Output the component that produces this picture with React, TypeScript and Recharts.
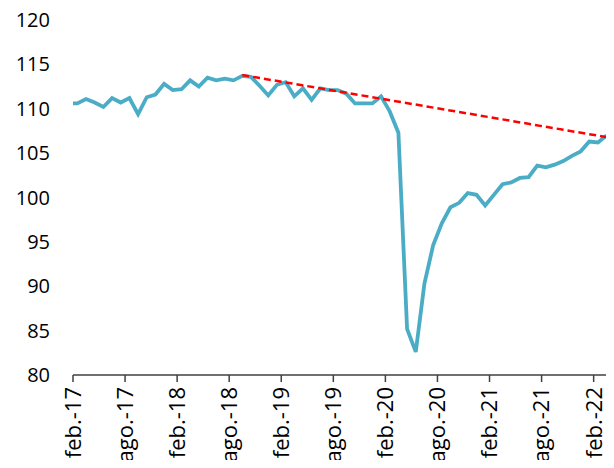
import { LineChart, Line, XAxis, YAxis } from "recharts"

// Índice mensual (feb.-17 = mes 0). Los datos caen a mitad de mes,
// salvo el primer valor, que está justo en el inicio del eje.
const mesInicio = 0
const valores = [
  110.6, 110.6, 111.1, 110.7, 110.2, 111.2, 110.7, 111.2, 109.4, 111.3, 111.6, 112.8, 112.1,
  112.2, 113.2, 112.5, 113.5, 113.2, 113.4, 113.2, 113.7, 113.6, 112.6, 111.5, 112.7,
  113.0, 111.4, 112.3, 111.0, 112.3, 112.1, 112.1, 111.7, 110.6, 110.6, 110.6, 111.4,
  109.7, 107.3, 85.2, 82.6, 90.3, 94.6, 97.1, 98.9, 99.4, 100.5, 100.3, 99.1,
  100.3, 101.5, 101.7, 102.2, 102.3, 103.6, 103.4, 103.7, 104.1, 104.7, 105.2, 106.3,
  106.2, 107.0,
]

// tendencia pre-pandemia (extremos de la recta punteada)
const tendenciaMeses = [19.5, 61.5]
const tendenciaValores = [113.8, 106.8]

const etiquetas = [
  "feb.-17", "ago.-17", "feb.-18", "ago.-18", "feb.-19", "ago.-19",
  "feb.-20", "ago.-20", "feb.-21", "ago.-21", "feb.-22",
]
const ticksX = etiquetas.map((_, i) => i * 6)
const ticksY = [80, 85, 90, 95, 100, 105, 110, 115, 120]

const serie = valores.map((v, i) => ({ t: i === 0 ? mesInicio : i - 0.5, v }))
const tendencia = tendenciaMeses.map((t, i) => ({ t, v: tendenciaValores[i] }))

const FONT = "'Open Sans', 'Noto Sans', sans-serif"

const TickX = ({ x, y, payload }: any) => (
  <text
    x={x}
    y={y}
    transform={`rotate(-90, ${x}, ${y})`}
    textAnchor="end"
    dy="0.36em"
    fill="#000"
    fontSize={22}
    fontFamily={FONT}
  >
    {etiquetas[Math.round(payload.value / 6)]}
  </text>
)

export default function App() {
  return (
    <div style={{ width: 614, height: 468, margin: -8, background: "#fff" }}>
      <LineChart
        width={614}
        height={468}
        margin={{ top: 20, right: 3, left: 13, bottom: 13 }}
      >
        <XAxis
          type="number"
          dataKey="t"
          domain={[0, 62]}
          ticks={ticksX}
          tick={<TickX />}
          height={80}
          tickSize={7}
          tickMargin={5}
          axisLine={{ stroke: "#404040", strokeWidth: 1.5 }}
          tickLine={{ stroke: "#404040", strokeWidth: 1.5 }}
          allowDataOverflow
        />
        <YAxis
          type="number"
          domain={[80, 120]}
          ticks={ticksY}
          width={60}
          axisLine={false}
          tickLine={false}
          tickSize={6}
          tickMargin={17}
          tick={{ fill: "#000", fontSize: 20, fontFamily: FONT }}
        />
        <Line
          data={serie}
          dataKey="v"
          type="linear"
          stroke="#4bacc6"
          strokeWidth={3.8}
          dot={false}
          isAnimationActive={false}
        />
        <Line
          data={tendencia}
          dataKey="v"
          type="linear"
          stroke="#ff0000"
          strokeWidth={2.5}
          strokeDasharray="7 4"
          dot={false}
          isAnimationActive={false}
        />
      </LineChart>
    </div>
  )
}
